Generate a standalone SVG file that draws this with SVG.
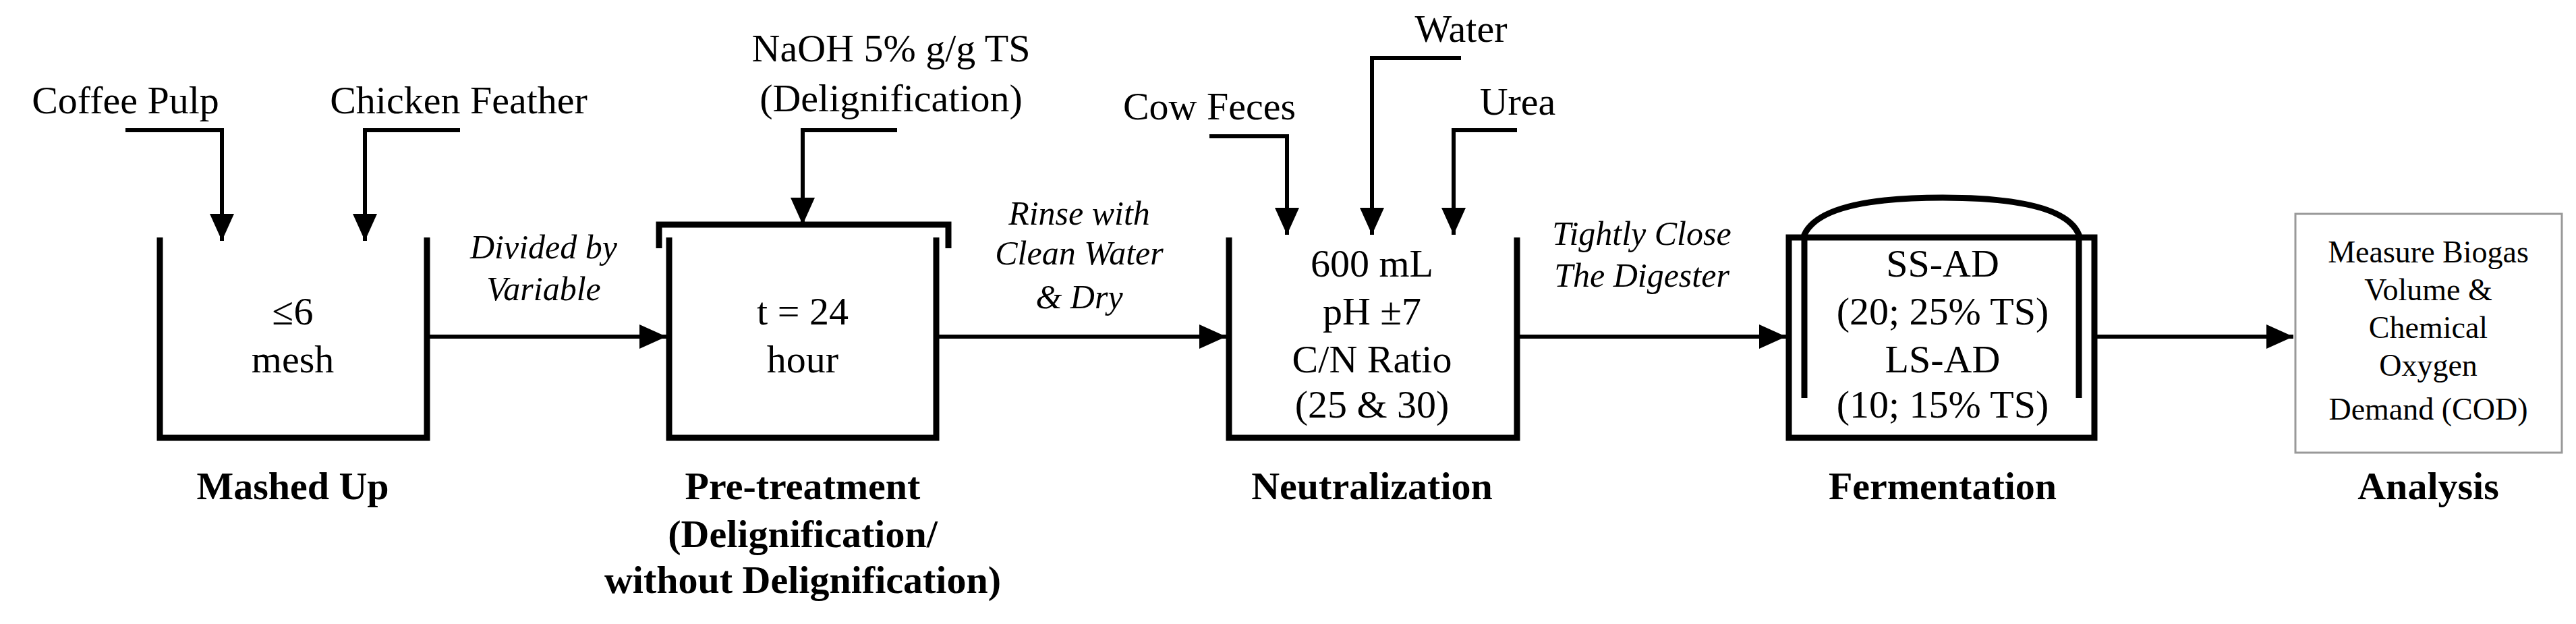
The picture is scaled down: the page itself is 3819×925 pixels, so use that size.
<svg xmlns="http://www.w3.org/2000/svg" width="3819" height="925" viewBox="0 0 3819 925">
<style>
text{font-family:"Liberation Serif","DejaVu Serif",serif;font-size:58px;fill:#000;text-anchor:middle}
.b{font-weight:bold}
.i{font-style:italic;font-size:50px}
.s{font-size:46px}
.tank{fill:none;stroke:#000;stroke-width:9}
.ln{fill:none;stroke:#000;stroke-width:6}
</style>
<defs>
<marker id="ah" markerUnits="userSpaceOnUse" markerWidth="40" markerHeight="40" viewBox="0 0 40 40" refX="40" refY="20" orient="auto">
<path d="M0,2 L40,20 L0,38 Z" fill="#000"/>
</marker>
</defs>
<rect width="3819" height="925" fill="#fff"/>
<g id="mashed">
<path class="tank" d="M237,352 V649 H633 V352"/>
<text x="434" y="481">≤6</text>
<text x="434" y="552">mesh</text>
<text class="b" x="434" y="740">Mashed Up</text>
</g>
<g id="coffee"><text x="186" y="168">Coffee Pulp</text></g>
<g id="chicken"><text x="680" y="168">Chicken Feather</text></g>
<g id="pretreatment">
<path class="tank" d="M992,352 V649 H1388 V352"/>
<path class="tank" d="M977,368 V333 H1406 V368"/>
<text x="1190" y="481">t = 24</text>
<text x="1190" y="552">hour</text>
<text class="b" x="1190" y="740">Pre-treatment</text>
<text class="b" x="1190" y="811">(Delignification/</text>
<text class="b" x="1190" y="879">without Delignification)</text>
</g>
<g id="naoh"><text x="1321" y="91">NaOH 5% g/g TS</text><text x="1321" y="165">(Delignification)</text></g>
<g id="neutralization">
<path class="tank" d="M1822,352 V649 H2249 V352"/>
<text x="2034" y="410">600 mL</text>
<text x="2034" y="481">pH ±7</text>
<text x="2034" y="552">C/N Ratio</text>
<text x="2034" y="619">(25 &amp; 30)</text>
<text class="b" x="2034" y="740">Neutralization</text>
</g>
<g id="cow"><text x="1793" y="177">Cow Feces</text></g>
<g id="water"><text x="2166" y="62">Water</text></g>
<g id="urea"><text x="2250" y="170">Urea</text></g>
<g id="fermentation">
<rect class="tank" x="2652" y="352" width="453" height="297"/>
<path class="tank" d="M2675,590 V348 Q2700,293 2880,293 Q3060,293 3082,348 V590"/>
<text x="2880" y="410">SS-AD</text>
<text x="2880" y="481">(20; 25% TS)</text>
<text x="2880" y="552">LS-AD</text>
<text x="2880" y="619">(10; 15% TS)</text>
<text class="b" x="2880" y="740">Fermentation</text>
</g>
<g id="analysis">
<rect x="3403" y="317" width="395" height="354" fill="#fff" stroke="#999" stroke-width="3"/>
<text class="s" x="3600" y="389">Measure Biogas</text>
<text class="s" x="3600" y="445">Volume &amp;</text>
<text class="s" x="3600" y="501">Chemical</text>
<text class="s" x="3600" y="557">Oxygen</text>
<text class="s" x="3600" y="622">Demand (COD)</text>
<text class="b" x="3600" y="740">Analysis</text>
</g>
<g id="connectors">
<path class="ln" marker-end="url(#ah)" d="M186,193 H329 V357"/>
<path class="ln" marker-end="url(#ah)" d="M682,193 H541 V357"/>
<path class="ln" marker-end="url(#ah)" d="M1330,193 H1190 V333"/>
<path class="ln" marker-end="url(#ah)" d="M1793,202 H1908 V348"/>
<path class="ln" marker-end="url(#ah)" d="M2166,86 H2034 V348"/>
<path class="ln" marker-end="url(#ah)" d="M2249,193 H2155 V348"/>
<path class="ln" marker-end="url(#ah)" d="M636,499 H988"/>
<path class="ln" marker-end="url(#ah)" d="M1388,499 H1818"/>
<path class="ln" marker-end="url(#ah)" d="M2249,499 H2648"/>
<path class="ln" marker-end="url(#ah)" d="M3105,499 H3400"/>
<text class="i" x="806" y="383">Divided by</text>
<text class="i" x="806" y="445">Variable</text>
<text class="i" x="1600" y="333">Rinse with</text>
<text class="i" x="1600" y="392">Clean Water</text>
<text class="i" x="1600" y="457">&amp; Dry</text>
<text class="i" x="2434" y="363">Tightly Close</text>
<text class="i" x="2434" y="425">The Digester</text>
</g>
</svg>
